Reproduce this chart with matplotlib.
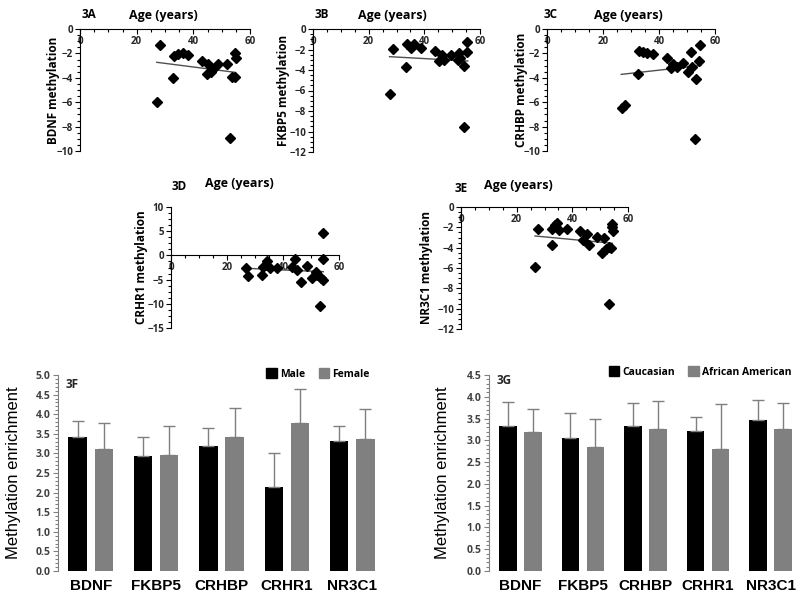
import numpy as np
import matplotlib
matplotlib.use("Agg")
import matplotlib.pyplot as plt
from matplotlib.ticker import MultipleLocator, FormatStrFormatter
from matplotlib.patches import Patch

# ---- scatter panels: age (years) vs methylation ----
age_3a = [28.2, 27.1, 32.7, 33.2, 34.7, 36.2, 38.0, 43.2, 44.7, 45.3, 46.2, 46.8,
          48.6, 51.8, 53.5, 52.9, 54.7, 54.7, 54.9]
bdnf_3a = [-1.31, -5.96, -4.04, -2.21, -2.05, -1.94, -2.13, -2.62, -3.72, -2.90, -3.50, -3.30,
           -2.90, -2.87, -3.90, -8.96, -3.90, -1.94, -2.40]
trend_x_3a = [27.1, 54.7]
trend_y_3a = [-2.73, -3.55]

age_3b = [28.6, 27.7, 33.3, 33.7, 35.1, 36.3, 38.8, 43.8, 45.3, 46.2, 47.1, 49.6,
          52.0, 52.6, 52.8, 54.4, 54.3, 55.5, 55.5]
fkbp5_3b = [-1.98, -6.34, -3.68, -1.50, -1.89, -1.50, -1.82, -2.11, -3.12, -2.54, -3.02, -2.54,
            -3.02, -2.37, -2.80, -3.61, -9.53, -1.30, -2.28]
trend_x_3b = [27.5, 55.6]
trend_y_3b = [-2.70, -3.12]

age_3c = [26.7, 27.9, 32.4, 32.9, 34.2, 35.6, 37.7, 42.7, 44.2, 44.9, 46.3, 48.5,
          50.5, 51.3, 51.7, 53.2, 53.0, 54.4, 54.6]
crhbp_3c = [-6.50, -6.23, -3.69, -1.80, -1.86, -1.94, -2.05, -2.40, -3.22, -2.90, -3.09, -2.76,
            -3.50, -1.86, -3.09, -4.10, -9.04, -2.62, -1.31]
trend_x_3c = [26.5, 55.0]
trend_y_3c = [-3.72, -2.99]

age_3d = [26.7, 27.6, 32.4, 33.0, 34.2, 34.0, 35.4, 37.7, 43.1, 44.3, 45.1, 46.3,
          48.4, 50.5, 51.8, 52.0, 53.2, 54.2, 54.2, 54.4, 53.4]
crhr1_3d = [-2.54, -4.26, -4.05, -2.33, -1.16, -2.00, -2.67, -2.67, -2.33, -0.74, -3.02, -5.43,
            -2.19, -4.73, -3.37, -4.05, -10.45, 4.69, -0.80, -5.08, -4.70]
trend_x_3d = [27.0, 54.4]
trend_y_3d = [-2.67, -3.37]

age_3e = [27.6, 26.6, 32.6, 32.6, 33.8, 34.5, 35.3, 38.0, 42.8, 44.0, 45.2, 46.0,
          48.7, 50.8, 51.5, 52.0, 53.3, 53.1, 54.2, 54.2, 54.5, 53.9]
nr3c1_3e = [-2.20, -5.93, -3.74, -2.20, -1.77, -1.60, -2.26, -2.20, -2.33, -3.25, -2.66, -3.74,
            -2.92, -4.56, -3.02, -4.16, -3.90, -9.54, -1.70, -2.00, -2.36, -4.00]
trend_x_3e = [26.6, 54.4]
trend_y_3e = [-2.85, -3.57]

# ---- bar panels ----
genes = ["BDNF", "FKBP5", "CRHBP", "CRHR1", "NR3C1"]
male = [3.41, 2.93, 3.19, 2.15, 3.32]
male_err = [0.41, 0.48, 0.45, 0.87, 0.39]
female = [3.10, 2.96, 3.41, 3.78, 3.38]
female_err = [0.67, 0.75, 0.76, 0.87, 0.74]
caucasian = [3.34, 3.05, 3.34, 3.21, 3.47]
caucasian_err = [0.53, 0.57, 0.52, 0.33, 0.45]
african_am = [3.18, 2.85, 3.25, 2.79, 3.25]
african_am_err = [0.55, 0.63, 0.65, 1.04, 0.61]

plt.rcParams["font.family"] = ["Open Sans", "DejaVu Sans"]
plt.rcParams["font.weight"] = "bold"

W, H = 800, 599
fig = plt.figure(figsize=(W / 100, H / 100), dpi=100)

ARIAL = ["Liberation Sans", "DejaVu Sans"]


def px_rect(left, top, right, bottom):
    # convert pixel box to figure fraction
    return [left / W, 1 - bottom / H, (right - left) / W, (bottom - top) / H]


def scatter_panel(box, ages, meth, tx, ty, ylim, ystep, ylabel, ylab_x, tag, tag_xy, title_xy):
    ax = fig.add_axes(px_rect(*box))
    ax.plot(tx, ty, color="#505050", lw=1.0, zorder=2)
    ax.plot(ages, meth, "D", color="black", ms=5.5, zorder=3, clip_on=False)
    ax.set_xlim(0, 60)
    ax.set_ylim(*ylim)
    ax.spines["bottom"].set_position(("data", 0))
    ax.spines["top"].set_visible(False)
    ax.spines["right"].set_visible(False)
    ax.xaxis.set_major_locator(MultipleLocator(20))
    ax.xaxis.set_minor_locator(MultipleLocator(5))
    ax.yaxis.set_major_locator(MultipleLocator(ystep))
    ax.yaxis.set_minor_locator(MultipleLocator(ystep / 4))
    ax.tick_params(which="both", direction="out", width=0.8, labelsize=7, labelcolor="#262626")
    ax.tick_params(which="major", length=3.5, pad=1.5)
    ax.tick_params(which="minor", length=2.5)
    fig.text(ylab_x / W, 1 - (box[1] + box[3]) / 2 / H, ylabel, rotation=90,
             ha="center", va="center", fontsize=8.5)
    fig.text(tag_xy[0] / W, 1 - tag_xy[1] / H, tag, ha="left", va="center", fontsize=8.5)
    fig.text(title_xy[0] / W, 1 - title_xy[1] / H, "Age (years)", ha="center", va="center",
             fontsize=9)
    return ax


scatter_panel((80, 29, 250, 151), age_3a, bdnf_3a, trend_x_3a, trend_y_3a, (-10, 0), 2,
              "BDNF methylation", 54, "3A", (82, 15), (163, 15))
scatter_panel((313, 29, 480, 152), age_3b, fkbp5_3b, trend_x_3b, trend_y_3b, (-12, 0), 2,
              "FKBP5 methylation", 284, "3B", (315, 15), (392, 15))
scatter_panel((547, 29, 715, 151), age_3c, crhbp_3c, trend_x_3c, trend_y_3c, (-10, 0), 2,
              "CRHBP methylation", 522, "3C", (544, 15), (628, 15))
scatter_panel((171, 207, 339, 328), age_3d, crhr1_3d, trend_x_3d, trend_y_3d, (-15, 10), 5,
              "CRHR1 methylation", 142, "3D", (172, 187), (239, 184))
scatter_panel((461, 207, 628, 329), age_3e, nr3c1_3e, trend_x_3e, trend_y_3e, (-12, 0), 2,
              "NR3C1 methylation", 427, "3E", (455, 188), (518, 185))


def bar_panel(box, a, a_err, b, b_err, names, ymax, tag, tag_xy, ylab_x, leg_xy):
    ax = fig.add_axes(px_rect(*box))
    x = np.arange(len(genes))
    zeros = np.zeros(len(genes))
    ekw = dict(ecolor="#7f7f7f", elinewidth=1.0, capsize=4, capthick=1.0)
    ax.bar(x - 0.2, a, 0.28, color="black", yerr=[zeros, a_err], error_kw=ekw)
    ax.bar(x + 0.2, b, 0.28, color="#808080", yerr=[zeros, b_err], error_kw=ekw)
    ax.set_xlim(-0.5, 4.5)
    ax.set_ylim(0, ymax)
    for s in ["top", "right", "bottom"]:
        ax.spines[s].set_visible(False)
    ax.spines["left"].set_color("#808080")
    ax.yaxis.set_major_locator(MultipleLocator(0.5))
    ax.yaxis.set_minor_locator(MultipleLocator(0.1))
    ax.yaxis.set_major_formatter(FormatStrFormatter("%.1f"))
    ax.tick_params(axis="y", which="both", direction="out", color="#808080", width=0.8,
                   labelsize=7.5, labelcolor="#404040")
    ax.tick_params(axis="y", which="major", length=3.5, pad=2)
    ax.tick_params(axis="y", which="minor", length=2)
    ax.tick_params(axis="x", length=0, pad=6)
    ax.set_xticks(x)
    ax.set_xticklabels(genes, fontsize=11, fontweight="bold", family=ARIAL)
    fig.text(ylab_x / W, 1 - (box[1] + box[3]) / 2 / H, "Methylation enrichment", rotation=90,
             ha="center", va="center", fontsize=12, fontweight="normal", family=ARIAL)
    fig.text(tag_xy[0] / W, 1 - tag_xy[1] / H, tag, ha="left", va="center",
             fontsize=8.5, color="#262626")
    handles = [Patch(color="black"), Patch(color="#808080")]
    ax.legend(handles, names, ncol=2, frameon=False, loc="center",
              bbox_to_anchor=(leg_xy[0] / W, 1 - leg_xy[1] / H),
              bbox_transform=fig.transFigure, handlelength=1.0, handleheight=1.0,
              handletextpad=0.3, columnspacing=1.3,
              prop={"weight": "bold", "size": 7.5})
    return ax


bar_panel((58, 375, 385, 571), male, male_err, female, female_err, ["Male", "Female"], 5.0,
          "3F", (66, 385), 14, (318, 374))
bar_panel((489, 375, 802, 571), caucasian, caucasian_err, african_am, african_am_err,
          ["Caucasian", "African American"], 4.5, "3G", (497, 380), 442, (700, 372))

fig.savefig("out.png", dpi=100)
